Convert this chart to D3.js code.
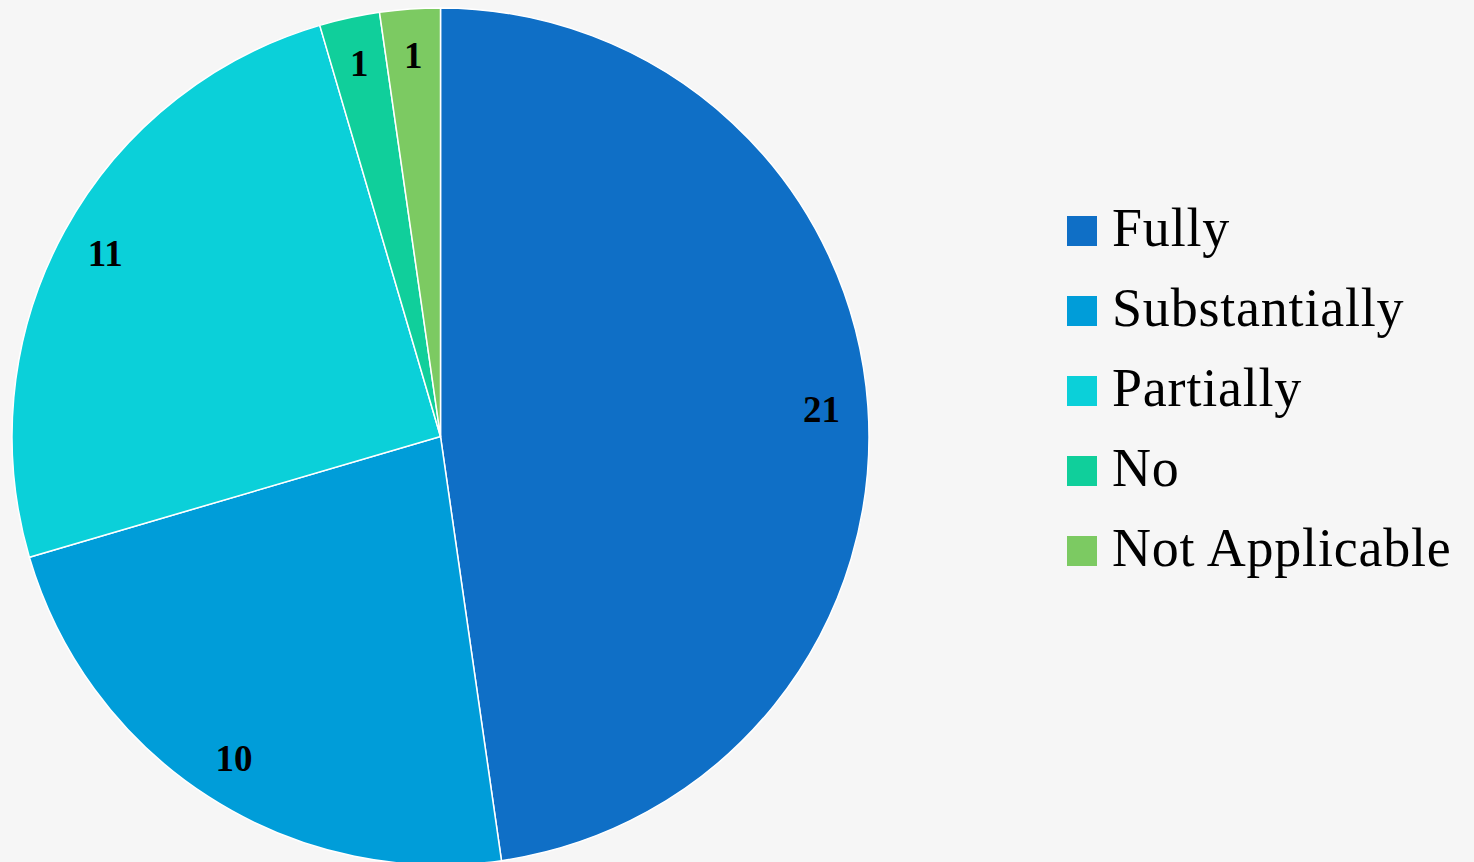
<!DOCTYPE html>
<html>
<head>
<meta charset="utf-8">
<script src="https://cdn.jsdelivr.net/npm/d3@7"></script>
<style>
  html, body { margin: 0; padding: 0; background: #f6f6f6; }
  svg { display: block; }
</style>
</head>
<body>
<div id="chart"></div>
<script>
const width = 1474
const height = 862

const categories = ['Fully', 'Substantially', 'Partially', 'No', 'Not Applicable']
const counts = [21, 10, 11, 1, 1]
const colors = ['#0f6fc6', '#009dd9', '#0bd0d9', '#10cf9b', '#7cca62']

const center = { x: 440.5, y: 436.5 }
const radius = 428.5
const labelRadius = 382

const svg = d3.select('#chart').append('svg').attr('width', width).attr('height', height)

svg.append('rect').attr('width', width).attr('height', height).attr('fill', '#f6f6f6')

const data = categories.map((c, i) => ({ name: c, value: counts[i] }))

const color = d3.scaleOrdinal().domain(categories).range(colors)

const pie = d3.pie().value(d => d.value).sort(null)
const arc = d3.arc().innerRadius(0).outerRadius(radius)
const labelArc = d3.arc().innerRadius(labelRadius).outerRadius(labelRadius)

const pieGroup = svg.append('g').attr('class', 'pieGroup')
  .attr('transform', `translate(${center.x}, ${center.y})`)

const arcs = pie(data)

pieGroup.selectAll('path')
  .data(arcs)
  .enter()
  .append('path')
  .attr('d', arc)
  .attr('fill', d => color(d.data.name))
  .attr('stroke', '#ffffff')
  .attr('stroke-width', 1.5)

pieGroup.selectAll('text')
  .data(arcs)
  .enter()
  .append('text')
  .attr('transform', d => `translate(${labelArc.centroid(d)})`)
  .attr('text-anchor', 'middle')
  .attr('dy', '0.35em')
  .attr('font-family', '"Liberation Serif", serif')
  .attr('font-weight', 'bold')
  .attr('font-size', 37)
  .attr('fill', '#000')
  .text(d => d.data.value)

// legend
const legend = svg.append('g').attr('class', 'legend').attr('transform', 'translate(1067, 216)')
const legendStep = 80

const items = legend.selectAll('g')
  .data(categories)
  .enter()
  .append('g')
  .attr('transform', (d, i) => `translate(0, ${i * legendStep})`)

items.append('rect')
  .attr('width', 30)
  .attr('height', 30)
  .attr('fill', d => color(d))

items.append('text')
  .attr('x', 45)
  .attr('y', 30)
  .attr('font-family', '"Liberation Serif", serif')
  .attr('font-size', 54)
  .attr('letter-spacing', 0.8)
  .attr('fill', '#000')
  .text(d => d)
</script>
</body>
</html>
